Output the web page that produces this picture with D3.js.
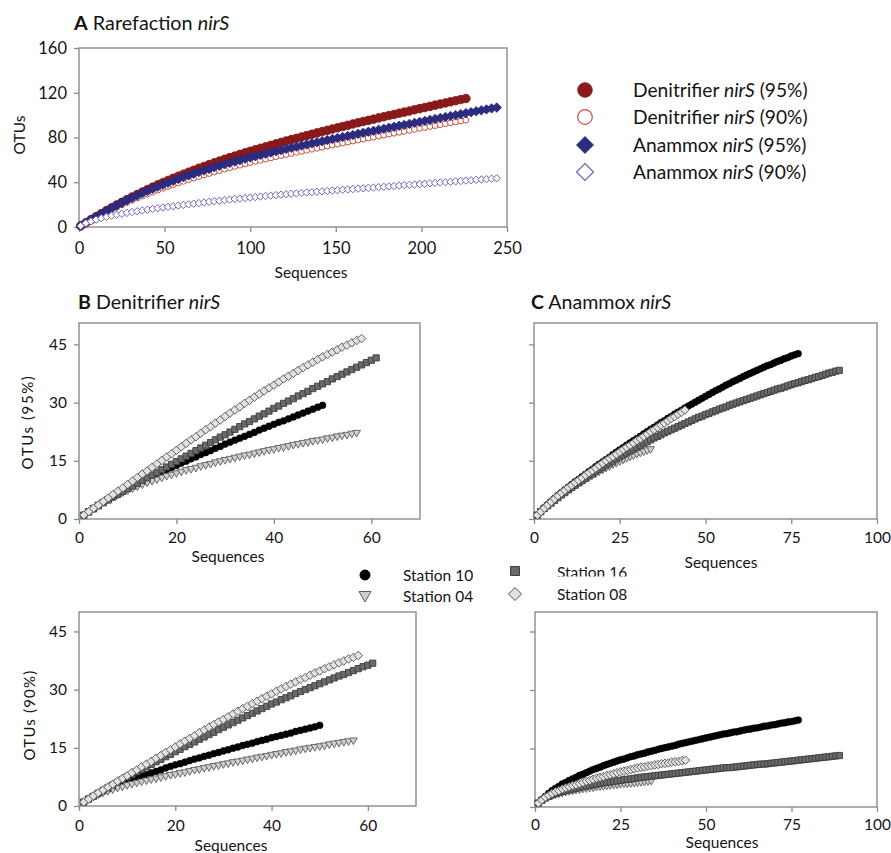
<!DOCTYPE html>
<html>
<head>
<meta charset="utf-8">
<script src="https://cdn.jsdelivr.net/npm/d3@7"></script>
<style>
  html, body { margin: 0; padding: 0; background: #fff; }
  svg { display: block; font-family: Lato, "Open Sans", sans-serif; }
</style>
</head>
<body>
<svg id="fig" width="891" height="853"></svg>
<script>
// ---------------- data ----------------
// Panel A: rarefaction of all nirS sequences, sampled every 3 sequences (depth = 1, 4, 7, ...)
const depthStepA = 3;
const denitrifier95 = [1.0,3.8,6.6,9.3,11.9,14.6,17.1,19.7,22.1,24.5,26.8,29.1,31.3,33.5,35.6,37.7,39.7,41.6,43.5,45.4,47.2,49.0,50.7,52.5,54.1,55.8,57.4,58.9,60.5,62.0,63.4,64.9,66.3,67.7,69.1,70.4,71.7,73.0,74.3,75.6,76.9,78.1,79.3,80.5,81.7,82.9,84.1,85.3,86.4,87.6,88.7,89.8,90.9,92.1,93.2,94.3,95.3,96.4,97.5,98.5,99.6,100.6,101.7,102.7,103.7,104.8,105.8,106.8,107.8,108.9,109.9,110.9,111.9,112.9,113.9,114.9];
const denitrifier90 = [1.0,3.6,6.2,8.7,11.1,13.4,15.7,17.8,19.9,22.0,24.0,25.9,27.7,29.6,31.3,33.0,34.7,36.3,37.9,39.4,40.9,42.4,43.8,45.2,46.6,47.9,49.2,50.5,51.8,53.0,54.2,55.3,56.5,57.6,58.7,59.7,60.8,61.8,62.9,63.9,64.8,65.8,66.8,67.7,68.6,69.6,70.5,71.4,72.4,73.3,74.2,75.1,76.0,76.9,77.8,78.7,79.6,80.4,81.3,82.2,83.1,83.9,84.8,85.6,86.5,87.3,88.2,89.0,89.9,90.7,91.5,92.4,93.2,94.0,94.8,95.6];
const anammox95 = [1.0,3.8,6.5,9.1,11.7,14.3,16.8,19.2,21.5,23.8,26.0,28.1,30.2,32.2,34.1,35.9,37.7,39.5,41.2,42.9,44.5,46.1,47.6,49.1,50.5,51.9,53.3,54.7,56.0,57.3,58.5,59.7,61.0,62.1,63.3,64.4,65.5,66.6,67.7,68.7,69.8,70.8,71.8,72.8,73.8,74.8,75.8,76.7,77.7,78.6,79.6,80.5,81.4,82.3,83.3,84.2,85.1,86.0,86.9,87.8,88.7,89.6,90.5,91.3,92.2,93.1,94.0,94.9,95.7,96.6,97.5,98.3,99.2,100.0,100.9,101.8,102.6,103.5,104.3,105.1,106.0,106.8];
const anammox90 = [1.0,3.4,5.1,6.6,7.9,9.1,10.1,11.0,11.8,12.6,13.4,14.1,14.8,15.5,16.1,16.8,17.4,18.0,18.6,19.2,19.7,20.3,20.8,21.4,21.9,22.5,23.0,23.5,24.0,24.5,25.0,25.4,25.9,26.3,26.8,27.2,27.7,28.1,28.5,28.9,29.3,29.7,30.0,30.4,30.8,31.1,31.5,31.9,32.2,32.6,32.9,33.3,33.6,33.9,34.3,34.6,35.0,35.3,35.6,36.0,36.3,36.7,37.0,37.4,37.7,38.0,38.4,38.7,39.1,39.4,39.8,40.1,40.4,40.8,41.1,41.5,41.8,42.2,42.5,42.8,43.2,43.5];

// Panels B and C: per-station rarefaction, one value per sequence (depth = 1, 2, 3, ...)
const stations = ["Station 10", "Station 04", "Station 16", "Station 08"];

// B: denitrifier nirS
const denSt10_95 = [1.0,1.9,2.7,3.5,4.3,5.0,5.7,6.4,7.1,7.8,8.4,9.0,9.6,10.2,10.8,11.4,12.0,12.6,13.2,13.8,14.4,14.9,15.5,16.0,16.6,17.1,17.6,18.2,18.7,19.3,19.8,20.3,20.8,21.3,21.8,22.3,22.9,23.4,23.9,24.4,24.9,25.3,25.8,26.3,26.8,27.3,27.8,28.3,28.8,29.3];
const denSt04_95 = [1.0,1.9,2.8,3.6,4.3,5.0,5.6,6.2,6.8,7.3,7.8,8.3,8.8,9.3,9.7,10.1,10.6,11.0,11.3,11.7,12.1,12.5,12.8,13.1,13.5,13.8,14.1,14.5,14.8,15.1,15.4,15.7,16.0,16.3,16.5,16.8,17.1,17.4,17.7,17.9,18.2,18.4,18.7,19.0,19.2,19.5,19.7,20.0,20.2,20.4,20.7,20.9,21.2,21.4,21.6,21.9,22.1];
const denSt16_95 = [1.0,1.8,2.6,3.4,4.2,4.9,5.7,6.4,7.1,7.8,8.5,9.2,9.9,10.6,11.3,12.0,12.7,13.4,14.1,14.8,15.5,16.2,16.9,17.6,18.3,19.0,19.7,20.4,21.1,21.7,22.4,23.1,23.8,24.5,25.1,25.8,26.5,27.1,27.8,28.5,29.1,29.8,30.4,31.0,31.7,32.3,32.9,33.6,34.2,34.8,35.4,36.1,36.7,37.3,37.9,38.5,39.1,39.7,40.3,40.9,41.5];
const denSt08_95 = [1.0,1.9,2.8,3.6,4.5,5.4,6.3,7.2,8.0,8.9,9.8,10.7,11.6,12.4,13.3,14.2,15.1,16.0,16.8,17.7,18.6,19.5,20.4,21.2,22.1,23.0,23.8,24.7,25.5,26.4,27.3,28.1,28.9,29.8,30.6,31.4,32.2,33.0,33.8,34.5,35.3,36.1,36.8,37.5,38.3,39.0,39.7,40.4,41.1,41.8,42.4,43.0,43.6,44.3,44.8,45.4,46.0,46.5];

const denSt10_90 = [1.0,1.8,2.5,3.1,3.8,4.3,4.8,5.3,5.8,6.3,6.7,7.2,7.6,8.1,8.5,8.9,9.3,9.8,10.2,10.6,10.9,11.3,11.7,12.1,12.4,12.8,13.1,13.5,13.8,14.2,14.5,14.9,15.2,15.6,15.9,16.2,16.6,16.9,17.2,17.6,17.9,18.2,18.5,18.8,19.2,19.5,19.8,20.1,20.4,20.8];
const denSt04_90 = [1.0,1.7,2.3,2.9,3.4,3.8,4.2,4.6,4.9,5.3,5.6,5.9,6.2,6.5,6.8,7.0,7.3,7.6,7.9,8.1,8.4,8.6,8.9,9.2,9.4,9.7,9.9,10.2,10.4,10.7,10.9,11.2,11.4,11.6,11.9,12.1,12.4,12.6,12.8,13.1,13.3,13.5,13.8,14.0,14.2,14.5,14.7,14.9,15.1,15.3,15.5,15.8,16.0,16.2,16.4,16.6,16.8];
const denSt16_90 = [1.0,1.8,2.5,3.3,4.0,4.7,5.4,6.1,6.8,7.5,8.1,8.8,9.4,10.1,10.7,11.4,12.0,12.7,13.3,14.0,14.6,15.3,15.9,16.5,17.2,17.8,18.4,19.0,19.7,20.3,20.9,21.5,22.1,22.7,23.3,23.9,24.5,25.1,25.7,26.3,26.8,27.4,27.9,28.4,29.0,29.5,30.0,30.5,31.0,31.5,32.0,32.5,33.0,33.5,33.9,34.4,34.9,35.4,35.9,36.3,36.8];
const denSt08_90 = [1.0,1.8,2.6,3.4,4.1,4.9,5.6,6.4,7.1,7.8,8.6,9.3,10.1,10.8,11.5,12.3,13.0,13.8,14.5,15.2,16.0,16.7,17.4,18.1,18.9,19.6,20.3,21.0,21.7,22.3,23.0,23.7,24.4,25.1,25.7,26.4,27.0,27.7,28.3,28.9,29.6,30.2,30.8,31.4,32.0,32.6,33.1,33.7,34.3,34.8,35.4,35.9,36.4,36.9,37.4,37.9,38.3,38.8];

// C: anammox nirS
const anaSt10_95 = [1.0,2.0,2.9,3.7,4.5,5.3,6.1,6.8,7.5,8.2,8.9,9.6,10.2,10.9,11.5,12.2,12.8,13.5,14.1,14.7,15.3,15.9,16.6,17.2,17.8,18.4,19.0,19.6,20.2,20.7,21.3,21.9,22.5,23.1,23.6,24.2,24.8,25.3,25.9,26.4,27.0,27.5,28.0,28.6,29.1,29.6,30.1,30.6,31.1,31.6,32.1,32.6,33.1,33.5,34.0,34.5,34.9,35.4,35.8,36.2,36.7,37.1,37.5,37.9,38.3,38.7,39.1,39.5,39.8,40.2,40.6,40.9,41.3,41.6,42.0,42.3,42.6];
const anaSt04_95 = [1.0,1.9,2.7,3.5,4.3,5.0,5.7,6.4,7.0,7.6,8.1,8.7,9.2,9.7,10.2,10.7,11.2,11.7,12.2,12.6,13.1,13.5,14.0,14.4,14.8,15.2,15.6,16.0,16.3,16.7,17.0,17.3,17.6,17.9];
const anaSt16_95 = [1.0,1.9,2.7,3.4,4.1,4.8,5.5,6.2,6.8,7.5,8.1,8.7,9.3,9.9,10.5,11.1,11.6,12.2,12.8,13.3,13.9,14.4,14.9,15.5,16.0,16.5,17.0,17.5,18.0,18.5,19.0,19.5,19.9,20.4,20.9,21.3,21.7,22.2,22.6,23.0,23.4,23.8,24.2,24.6,25.0,25.4,25.8,26.2,26.5,26.9,27.2,27.6,27.9,28.3,28.6,28.9,29.3,29.6,29.9,30.2,30.5,30.8,31.1,31.4,31.7,32.0,32.3,32.6,32.9,33.2,33.5,33.7,34.0,34.3,34.6,34.9,35.1,35.4,35.7,35.9,36.2,36.5,36.7,37.0,37.3,37.6,37.8,38.1,38.3];
const anaSt08_95 = [1.0,1.9,2.8,3.6,4.4,5.2,6.0,6.7,7.4,8.1,8.7,9.4,10.0,10.6,11.3,11.9,12.5,13.1,13.8,14.4,15.0,15.6,16.1,16.7,17.3,17.9,18.5,19.0,19.6,20.2,20.7,21.3,21.9,22.5,23.0,23.6,24.2,24.7,25.3,25.9,26.4,27.0,27.5,28.1];

const anaSt10_90 = [1.0,1.9,2.7,3.5,4.2,4.8,5.3,5.9,6.3,6.8,7.2,7.6,8.1,8.4,8.8,9.2,9.6,9.9,10.2,10.6,10.9,11.2,11.5,11.8,12.1,12.3,12.6,12.9,13.1,13.4,13.6,13.8,14.1,14.3,14.5,14.8,15.0,15.2,15.4,15.6,15.8,16.1,16.3,16.5,16.7,16.9,17.1,17.3,17.5,17.7,17.9,18.1,18.3,18.5,18.7,18.8,19.0,19.2,19.3,19.5,19.7,19.9,20.0,20.2,20.3,20.5,20.7,20.8,21.0,21.1,21.3,21.5,21.6,21.8,21.9,22.1,22.3];
const anaSt04_90 = [1.0,1.7,2.2,2.6,2.9,3.2,3.4,3.6,3.8,4.0,4.1,4.3,4.4,4.6,4.7,4.8,4.9,5.1,5.2,5.3,5.4,5.5,5.6,5.7,5.8,5.9,5.9,6.0,6.1,6.2,6.3,6.4,6.5,6.6];
const anaSt16_90 = [1.0,1.7,2.3,2.7,3.1,3.4,3.7,4.0,4.2,4.4,4.6,4.8,5.0,5.2,5.4,5.5,5.7,5.9,6.0,6.2,6.3,6.4,6.6,6.7,6.8,7.0,7.1,7.2,7.3,7.5,7.6,7.7,7.8,7.9,8.0,8.1,8.2,8.3,8.4,8.5,8.6,8.7,8.8,8.9,9.0,9.1,9.2,9.3,9.4,9.5,9.6,9.7,9.8,9.9,10.0,10.1,10.1,10.2,10.3,10.4,10.5,10.6,10.7,10.8,10.9,11.0,11.0,11.1,11.2,11.3,11.4,11.5,11.6,11.7,11.8,11.9,12.0,12.1,12.2,12.3,12.4,12.5,12.6,12.7,12.8,12.9,13.0,13.1,13.2];
const anaSt08_90 = [1.0,1.8,2.5,3.0,3.5,3.9,4.2,4.6,4.9,5.2,5.5,5.7,6.0,6.3,6.6,6.8,7.1,7.4,7.6,7.8,8.1,8.3,8.5,8.8,9.0,9.2,9.4,9.6,9.8,10.0,10.2,10.3,10.5,10.6,10.8,10.9,11.1,11.2,11.3,11.5,11.6,11.7,11.9,12.0];

// axis ticks
const ticksA_x = [0, 50, 100, 150, 200, 250];
const ticksA_y = [0, 40, 80, 120, 160];
const ticksB_x = [0, 20, 40, 60];
const ticksC_x = [0, 25, 50, 75, 100];
const ticksBC_y = [0, 15, 30, 45];

// ---------------- drawing ----------------
const svg = d3.select("#fig");
const AXIS = "#8a8a8a";
const INK = "#141414";

// marker outlines centred on (0,0)
function shape(kind, r) {
  switch (kind) {
    case "circle":  return d3.symbol(d3.symbolCircle, Math.PI * r * r)();
    case "diamond": return `M0,${-r}L${r},0L0,${r}L${-r},0Z`;
    case "square":  return `M${-r},${-r}h${2 * r}v${2 * r}h${-2 * r}Z`;
    case "triDown": return `M${-r},${-r * 0.75}L${r},${-r * 0.75}L0,${r}Z`;
  }
}

const styleA = {
  den95: { shape: "circle",  r: 4.3, fill: "#8b1a1a", stroke: "#7d1414", sw: 0.8 },
  den90: { shape: "circle",  r: 3.0, fill: "#ffffff", stroke: "#c4503c", sw: 1.0 },
  ana95: { shape: "diamond", r: 4.7, fill: "#2c2c82", stroke: "#26267a", sw: 0.8 },
  ana90: { shape: "diamond", r: 3.7, fill: "#ffffff", stroke: "#6c64b8", sw: 1.0 }
};
const styleSt = {
  "Station 10": { shape: "circle",  r: 3.4, fill: "#000000", stroke: "#000000", sw: 0.6 },
  "Station 04": { shape: "triDown", r: 3.8, fill: "#cfcfcf", stroke: "#5c5c5c", sw: 0.9 },
  "Station 16": { shape: "square",  r: 3.1, fill: "#6a6a6a", stroke: "#3c3c3c", sw: 0.9 },
  "Station 08": { shape: "diamond", r: 4.3, fill: "#e2e2e2", stroke: "#505050", sw: 0.9 }
};

function drawPanel(p) {
  const x = d3.scaleLinear().domain(p.xDomain).range([p.left, p.right]);
  const y = d3.scaleLinear().domain(p.yDomain).range([p.bottom, p.top]);
  const g = svg.append("g");

  const xa = d3.axisBottom(x).tickValues(p.xTicks).tickSize(5).tickSizeOuter(0)
    .tickPadding(p.xPad).tickFormat(d3.format("d"));
  const ya = d3.axisLeft(y).tickValues(p.yTicks).tickSize(5).tickSizeOuter(0)
    .tickPadding(7).tickFormat(p.yLabels ? d3.format("d") : () => "");
  const gx = g.append("g").attr("transform", `translate(0,${p.bottom})`).call(xa);
  const gy = g.append("g").attr("transform", `translate(${p.left},0)`).call(ya);
  [gx, gy].forEach(a => {
    a.attr("font-family", null).attr("font-size", p.tickFont);
    a.select(".domain").remove();
    a.selectAll(".tick line").attr("stroke", AXIS).attr("stroke-width", 1.3);
    a.selectAll(".tick text").attr("fill", INK);
  });

  g.append("rect")
    .attr("x", p.left).attr("y", p.top)
    .attr("width", p.right - p.left).attr("height", p.bottom - p.top)
    .attr("fill", "none").attr("stroke", AXIS).attr("stroke-width", 1.4);

  p.series.forEach(s => {
    g.append("g").selectAll("path").data(s.values).join("path")
      .attr("transform", (v, i) => `translate(${x(1 + i * s.step)},${y(v)})`)
      .attr("d", shape(s.style.shape, s.style.r))
      .attr("fill", s.style.fill)
      .attr("stroke", s.style.stroke)
      .attr("stroke-width", s.style.sw);
  });
}

function richText(x, y, parts, size, anchor, rotate, spacing) {
  const t = svg.append("text")
    .attr("x", x).attr("y", y)
    .attr("font-size", size).attr("fill", INK)
    .attr("text-anchor", anchor || "start");
  if (rotate) t.attr("transform", `rotate(-90,${x},${y})`);
  if (spacing) t.attr("letter-spacing", spacing);
  parts.forEach(([txt, st]) => {
    const ts = t.append("tspan").text(txt);
    if (st === "b") ts.attr("font-weight", "bold");
    if (st === "i") ts.attr("font-style", "italic");
  });
  return t;
}

// ---- Panel A ----
drawPanel({
  left: 79, right: 507, top: 48, bottom: 227,
  xDomain: [0, 250], yDomain: [0, 160],
  xTicks: ticksA_x, yTicks: ticksA_y, yLabels: true, tickFont: 16.5, xPad: 10,
  series: [
    { values: denitrifier95, step: depthStepA, style: styleA.den95 },
    { values: denitrifier90, step: depthStepA, style: styleA.den90 },
    { values: anammox95,     step: depthStepA, style: styleA.ana95 },
    { values: anammox90,     step: depthStepA, style: styleA.ana90 }
  ]
});
richText(74, 30, [["A", "b"], [" Rarefaction ", ""], ["nirS", "i"]], 19.8);
richText(311, 278, [["Sequences", ""]], 15.5, "middle");
richText(25, 135, [["OTUs", ""]], 15.5, "middle", true);

// legend for panel A
const legendA = [
  { key: "den95", label: [["Denitrifier ", ""], ["nirS", "i"], [" (95%)", ""]] },
  { key: "den90", label: [["Denitrifier ", ""], ["nirS", "i"], [" (90%)", ""]] },
  { key: "ana95", label: [["Anammox ", ""], ["nirS", "i"], [" (95%)", ""]] },
  { key: "ana90", label: [["Anammox ", ""], ["nirS", "i"], [" (90%)", ""]] }
];
const legendRowsA = [90, 117, 145, 172];
legendA.forEach((d, i) => {
  const st = styleA[d.key];
  const big = Object.assign({}, st, { r: st.shape === "circle" ? 7.3 : 8.5, sw: st.fill === "#ffffff" ? 1.2 : 0.8 });
  svg.append("path")
    .attr("transform", `translate(585,${legendRowsA[i]})`)
    .attr("d", shape(big.shape, big.r))
    .attr("fill", big.fill).attr("stroke", big.stroke).attr("stroke-width", big.sw);
  richText(633, legendRowsA[i] + 6.5, d.label, 19.2);
});

// ---- Panel B (denitrifier) ----
const stB95 = [denSt10_95, denSt04_95, denSt16_95, denSt08_95];
const stB90 = [denSt10_90, denSt04_90, denSt16_90, denSt08_90];
const stC95 = [anaSt10_95, anaSt04_95, anaSt16_95, anaSt08_95];
const stC90 = [anaSt10_90, anaSt04_90, anaSt16_90, anaSt08_90];
const toSeries = arrs => arrs.map((v, i) => ({ values: v, step: 1, style: styleSt[stations[i]] }));

drawPanel({
  left: 79, right: 420, top: 323, bottom: 519,
  xDomain: [0, 70], yDomain: [0, 50.5],
  xTicks: ticksB_x, yTicks: ticksBC_y, yLabels: true, tickFont: 15.5, xPad: 8,
  series: toSeries(stB95)
});
drawPanel({
  left: 79, right: 416, top: 612, bottom: 806,
  xDomain: [0, 70], yDomain: [0, 50],
  xTicks: ticksB_x, yTicks: ticksBC_y, yLabels: true, tickFont: 15.5, xPad: 9,
  series: toSeries(stB90)
});
richText(78, 309, [["B", "b"], [" Denitrifier ", ""], ["nirS", "i"]], 19.6);
richText(228, 562, [["Sequences", ""]], 15.5, "middle");
richText(231, 851, [["Sequences", ""]], 15.5, "middle");
richText(33, 422, [["OTUs (95%)", ""]], 15, "middle", true, 1.6);
richText(35, 715, [["OTUs (90%)", ""]], 15, "middle", true, 1.2);

// ---- Panel C (anammox) ----
drawPanel({
  left: 534, right: 877, top: 323, bottom: 519,
  xDomain: [0, 100], yDomain: [0, 50.5],
  xTicks: ticksC_x, yTicks: ticksBC_y, yLabels: false, tickFont: 15.5, xPad: 8,
  series: toSeries(stC95)
});
drawPanel({
  left: 535, right: 877, top: 612, bottom: 807,
  xDomain: [0, 100], yDomain: [0, 50],
  xTicks: ticksC_x, yTicks: ticksBC_y, yLabels: false, tickFont: 15.5, xPad: 7,
  series: toSeries(stC90)
});
richText(531, 309, [["C", "b"], [" Anammox ", ""], ["nirS", "i"]], 19.6);
richText(721, 568, [["Sequences", ""]], 15.5, "middle");
richText(722, 848, [["Sequences", ""]], 15.5, "middle");

// ---- station legend ----
svg.append("defs").append("clipPath").attr("id", "legendClip")
  .append("rect").attr("x", 540).attr("y", 555).attr("width", 120).attr("height", 21.5);
const legendSt = [
  { name: "Station 10", mx: 365, my: 575, tx: 403, ty: 581, r: 5 },
  { name: "Station 04", mx: 365, my: 596, tx: 403, ty: 602, r: 6 },
  { name: "Station 16", mx: 515, my: 571, tx: 557, ty: 578, r: 4.5, clip: true },
  { name: "Station 08", mx: 515, my: 594, tx: 557, ty: 600, r: 6.5 }
];
legendSt.forEach(d => {
  const st = styleSt[d.name];
  svg.append("path")
    .attr("transform", `translate(${d.mx},${d.my})`)
    .attr("d", shape(st.shape, d.r))
    .attr("fill", st.fill).attr("stroke", st.stroke).attr("stroke-width", 1);
  const t = richText(d.tx, d.ty, [[d.name, ""]], 15.5);
  if (d.clip) t.attr("clip-path", "url(#legendClip)");
});
</script>
</body>
</html>
